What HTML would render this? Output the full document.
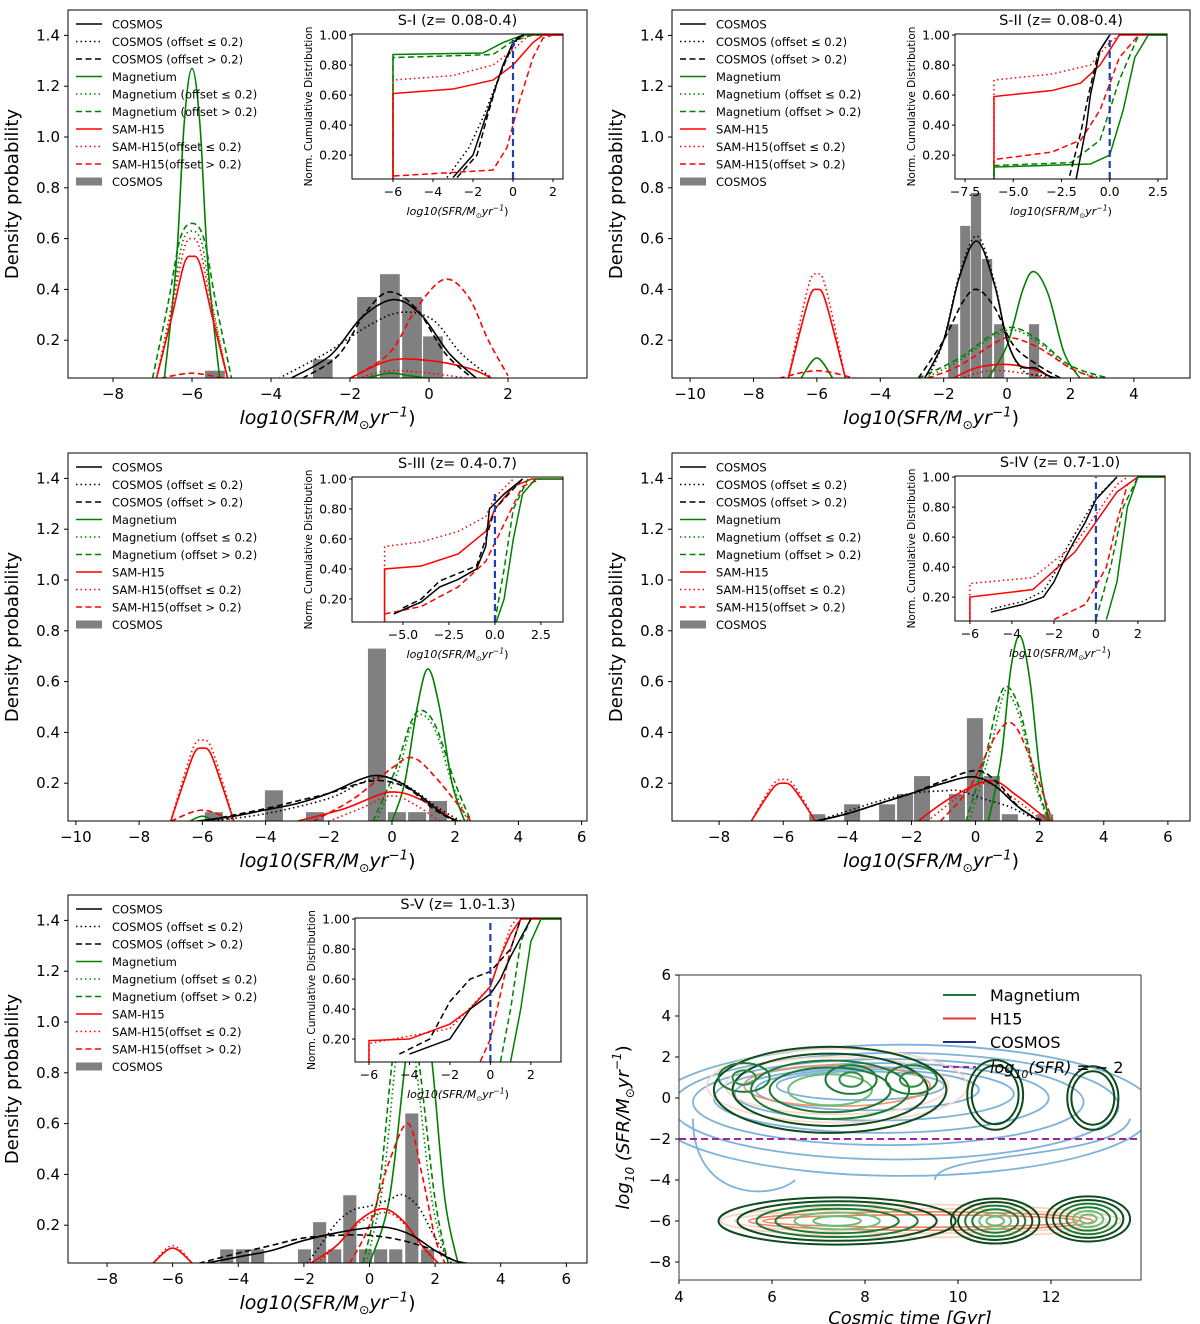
<!DOCTYPE html>
<html><head><meta charset="utf-8"><style>
html,body{margin:0;padding:0;background:#fff}
svg{display:block;font-family:"DejaVu Sans","Liberation Sans",sans-serif}
</style></head><body>
<svg id="fig" width="1200" height="1324" viewBox="0 0 1200 1324" xmlns="http://www.w3.org/2000/svg"></svg>
<script>
// ===== DATA =====
// Panel S-I
const s1BinX=[-5.67,-2.94,-1.82,-1.24,-0.68,-0.15];
const s1BinH=[0.08,0.125,0.37,0.46,0.37,0.215];
const s1CosSolid=[[-3.5,0.05],[-2.5,0.14],[-1.7,0.29],[-0.9,0.36],[-0.2,0.3],[0.5,0.15],[1.2,0.05]];
const s1CosDot=[[-3.8,0.05],[-2.6,0.15],[-1.5,0.26],[-0.7,0.31],[0.1,0.28],[0.8,0.15],[1.6,0.05]];
const s1CosDash=[[-3.2,0.05],[-2.3,0.14],[-1.6,0.31],[-1.0,0.39],[-0.3,0.32],[0.4,0.15],[1.1,0.05]];
const s1MagSolid=[[-6.7,0.05],[-6.4,0.5],[-6.2,1.05],[-6,1.27],[-5.8,1.05],[-5.6,0.5],[-5.3,0.05]];
const s1MagSolid2=[[-1.6,0.05],[-1,0.07],[-0.5,0.06],[0,0.05]];
const s1MagDot=[[-6.9,0.05],[-6.5,0.35],[-6.25,0.58],[-6,0.63],[-5.75,0.58],[-5.5,0.35],[-5.1,0.05]];
const s1MagDash=[[-7.0,0.05],[-6.6,0.35],[-6.3,0.6],[-6,0.66],[-5.7,0.6],[-5.4,0.35],[-5.0,0.05]];
const s1SamSolid=[[-6.9,0.05],[-6.5,0.3],[-6.2,0.5],[-6,0.53],[-5.8,0.5],[-5.5,0.3],[-5.1,0.05]];
const s1SamSolid2=[[-2,0.05],[-1,0.12],[0,0.12],[1,0.09],[1.6,0.05]];
const s1SamDot=[[-6.9,0.05],[-6.5,0.33],[-6.2,0.56],[-6,0.6],[-5.8,0.56],[-5.5,0.33],[-5.1,0.05]];
const s1SamDot2=[[-1.8,0.05],[-1,0.08],[0,0.07],[1,0.05]];
const s1SamDash=[[-6.8,0.05],[-6,0.07],[-5.2,0.05]];
const s1SamDash2=[[-2,0.05],[-1,0.15],[-0.3,0.33],[0.4,0.44],[1,0.37],[1.5,0.2],[2,0.06]];
// Panel S-II
const s2BinX=[-1.86,-1.48,-1.14,-0.79,-0.41,0.69];
const s2BinH=[0.263,0.65,0.78,0.52,0.263,0.263];
const s2CosSolid=[[-2.6,0.05],[-2,0.2],[-1.5,0.45],[-0.95,0.59],[-0.4,0.42],[0,0.2],[0.4,0.1],[0.9,0.09],[1.3,0.06],[1.6,0.05]];
const s2CosDot=[[-2.5,0.05],[-2,0.2],[-1.5,0.46],[-0.95,0.61],[-0.4,0.43],[0,0.2],[0.5,0.08],[1.2,0.06],[1.6,0.05]];
const s2CosDash=[[-2.8,0.05],[-2,0.2],[-1.4,0.35],[-0.95,0.40],[-0.4,0.33],[0.2,0.18],[1,0.1],[1.7,0.05]];
const s2MagSolid=[[-6.5,0.05],[-6,0.13],[-5.5,0.05]];
const s2MagSolid2=[[-0.6,0.05],[0,0.18],[0.5,0.4],[0.85,0.47],[1.3,0.38],[1.8,0.15],[2.3,0.05]];
const s2MagDot=[[-2.6,0.05],[-1.5,0.12],[-0.5,0.21],[0.2,0.24],[1,0.19],[2,0.09],[3,0.05]];
const s2MagDash=[[-2.8,0.05],[-1.5,0.13],[-0.5,0.22],[0.2,0.25],[1,0.2],[2,0.1],[3.2,0.05]];
const s2SamSolid=[[-6.9,0.05],[-6.5,0.25],[-6.2,0.38],[-6,0.40],[-5.8,0.38],[-5.5,0.25],[-5.1,0.05]];
const s2SamSolid2=[[-1.7,0.05],[-1,0.09],[-0.13,0.105],[0.7,0.09],[1.5,0.05]];
const s2SamDot=[[-6.9,0.05],[-6.5,0.29],[-6.2,0.44],[-6,0.46],[-5.8,0.44],[-5.5,0.29],[-5.1,0.05]];
const s2SamDot2=[[-1.5,0.05],[-0.5,0.08],[0.5,0.07],[1.3,0.05]];
const s2SamDash=[[-7.2,0.05],[-6,0.08],[-4.8,0.05]];
const s2SamDash2=[[-2.5,0.05],[-1.5,0.1],[-0.5,0.18],[0.1,0.21],[1,0.17],[2,0.09],[2.8,0.05]];
// Panel S-III
const s3BinX=[-5.92,-4.02,-2.72,-0.76,-0.13,0.51,1.17];
const s3BinH=[0.086,0.172,0.086,0.73,0.086,0.086,0.13];
const s3CosSolid=[[-6.2,0.05],[-5,0.07],[-4,0.095],[-3,0.12],[-2,0.16],[-1,0.215],[-0.4,0.23],[0.3,0.2],[1,0.14],[1.6,0.08],[2.1,0.05]];
const s3CosDot=[[-5.8,0.05],[-4,0.08],[-2,0.14],[-1,0.2],[-0.2,0.225],[0.6,0.18],[1.5,0.1],[2.2,0.05]];
const s3CosDash=[[-6,0.05],[-4,0.1],[-3,0.13],[-2,0.16],[-1,0.2],[-0.3,0.21],[0.5,0.18],[1.3,0.1],[2,0.05]];
const s3MagSolid=[[0,0.05],[0.4,0.2],[0.8,0.5],[1.14,0.65],[1.5,0.5],[1.9,0.2],[2.3,0.05]];
const s3MagDot=[[-0.5,0.05],[0.2,0.25],[0.6,0.42],[0.95,0.47],[1.4,0.4],[1.9,0.2],[2.4,0.05]];
const s3MagDash=[[-0.6,0.05],[0.1,0.25],[0.6,0.44],[0.95,0.487],[1.4,0.42],[2,0.2],[2.5,0.05]];
const s3MagSolidB=[[-6.4,0.05],[-6,0.07],[-5.6,0.05]];
const s3SamSolid=[[-7,0.05],[-6.6,0.2],[-6.25,0.32],[-6,0.338],[-5.75,0.32],[-5.4,0.2],[-5,0.05]];
const s3SamDot=[[-7,0.05],[-6.6,0.22],[-6.25,0.35],[-6,0.37],[-5.75,0.35],[-5.4,0.22],[-5,0.05]];
const s3SamDash=[[-7,0.05],[-6,0.094],[-5,0.05]];
const s3SamSolid2=[[-3,0.05],[-1.5,0.1],[-0.06,0.165],[1,0.13],[2,0.05]];
const s3SamDot2=[[-2,0.05],[-1,0.1],[0,0.15],[0.8,0.11],[1.5,0.05]];
const s3SamDash2=[[-2.5,0.05],[-1.2,0.14],[0,0.26],[0.66,0.30],[1.4,0.22],[2.5,0.05]];
// Panel S-IV
const s4BinX=[-5.19,-4.1,-3.01,-2.45,-1.92,-0.83,-0.27,0.26,0.82,1.92];
const s4BinH=[0.078,0.117,0.117,0.157,0.228,0.157,0.456,0.228,0.078,0.078];
const s4CosSolid=[[-5.0,0.05],[-4,0.08],[-3,0.12],[-2,0.16],[-1,0.2],[-0.1,0.225],[0.6,0.19],[1.3,0.11],[2,0.05]];
const s4CosDot=[[-5,0.05],[-4,0.09],[-3,0.13],[-2,0.16],[-1,0.17],[-0.5,0.17],[0.2,0.14],[1,0.11],[1.5,0.08],[2,0.05]];
const s4CosDash=[[-5,0.05],[-4,0.08],[-3,0.12],[-2,0.16],[-1,0.21],[0.04,0.25],[0.7,0.2],[1.4,0.1],[2.1,0.05]];
const s4MagSolid=[[0.4,0.05],[0.8,0.3],[1.1,0.65],[1.39,0.78],[1.7,0.6],[2,0.25],[2.3,0.05]];
const s4MagDot=[[-0.2,0.05],[0.4,0.3],[0.8,0.52],[1.0,0.56],[1.4,0.45],[1.9,0.18],[2.3,0.05]];
const s4MagDash=[[-0.3,0.05],[0.3,0.3],[0.7,0.52],[1.0,0.58],[1.4,0.48],[1.9,0.2],[2.3,0.05]];
const s4SamSolid=[[-7,0.05],[-6.6,0.13],[-6.25,0.19],[-6,0.2],[-5.75,0.19],[-5.4,0.13],[-5,0.05]];
const s4SamDot=[[-7,0.05],[-6.6,0.14],[-6.25,0.205],[-6,0.215],[-5.75,0.205],[-5.4,0.14],[-5,0.05]];
const s4SamSolid2=[[-1.8,0.05],[-0.8,0.14],[0.45,0.21],[1.3,0.15],[2.3,0.05]];
const s4SamDot2=[[-1.5,0.05],[-0.5,0.15],[0.3,0.2],[1.2,0.14],[2.1,0.05]];
const s4SamDash2=[[-1.1,0.05],[-0.2,0.18],[0.6,0.38],[1.14,0.436],[1.7,0.3],[2.4,0.05]];
// Panel S-V
const s5BinX=[-4.55,-4.07,-3.61,-2.18,-1.72,-1.26,-0.8,-0.32,0.14,0.6,1.09,1.57];
const s5BinH=[0.105,0.105,0.105,0.105,0.212,0.105,0.318,0.105,0.105,0.105,0.64,0.105];
const s5CosSolid=[[-5,0.05],[-4,0.075],[-3,0.1],[-2,0.14],[-1,0.17],[0,0.19],[0.6,0.19],[1.3,0.16],[2,0.1],[2.6,0.06],[3,0.05]];
const s5CosDot=[[-1.9,0.05],[-1.5,0.12],[-1,0.21],[-0.5,0.26],[0,0.275],[0.6,0.3],[1.0,0.32],[1.5,0.27],[2,0.15],[2.5,0.05]];
const s5CosDash=[[-5.2,0.05],[-4,0.09],[-3,0.12],[-2,0.15],[-1,0.16],[0,0.16],[1,0.14],[2,0.1],[2.6,0.06],[3,0.05]];
const s5MagSolid=[[0,0.05],[0.6,0.3],[1.1,0.85],[1.5,1.25],[1.9,0.85],[2.3,0.3],[2.7,0.05]];
const s5MagDot=[[-0.1,0.05],[0.4,0.35],[0.8,0.85],[1.1,1.12],[1.4,0.85],[1.9,0.3],[2.4,0.05]];
const s5MagDash=[[-0.2,0.05],[0.3,0.35],[0.7,0.85],[1.1,1.15],[1.5,0.85],[2.0,0.3],[2.4,0.05]];
const s5SamSolid=[[-6.6,0.05],[-6,0.11],[-5.4,0.05]];
const s5SamDot=[[-6.6,0.05],[-6,0.12],[-5.4,0.05]];
const s5SamSolid2=[[-1.8,0.05],[-1,0.12],[-0.3,0.22],[0.4,0.265],[1,0.22],[1.6,0.12],[2.1,0.05]];
const s5SamDot2=[[-1.6,0.05],[-1,0.12],[-0.3,0.21],[0.5,0.25],[1.1,0.2],[1.7,0.1],[2.1,0.05]];
const s5SamDash2=[[-0.6,0.05],[0,0.2],[0.6,0.45],[1.18,0.6],[1.6,0.4],[2.0,0.15],[2.3,0.05]];
// Inset CDFs
const c1=[
 ['g','-',[[-6,0],[-6,0.87],[-1.5,0.88],[-0.5,0.95],[0.5,1.0],[2.5,1]]],
 ['g','--',[[-6,0],[-6,0.85],[-1,0.87],[0,0.96],[1,1],[2.5,1]]],
 ['r','-',[[-6,0],[-6,0.61],[-3,0.64],[-1,0.7],[0,0.8],[1,0.95],[1.5,1],[2.5,1]]],
 ['r',':',[[-6,0],[-6,0.70],[-3,0.73],[-1,0.8],[0,0.9],[0.8,1],[2.5,1]]],
 ['r','--',[[-6,0],[-6,0.06],[-1,0.1],[-0.3,0.25],[0.3,0.55],[1,0.85],[1.5,0.98],[2,1]]],
 ['k','-',[[-3,0.05],[-2,0.2],[-1.5,0.4],[-1,0.6],[-0.5,0.8],[0,0.95],[0.5,1]]],
 ['k',':',[[-3.3,0.05],[-2.2,0.25],[-1.5,0.45],[-1,0.62],[-0.4,0.82],[0.2,0.97],[0.6,1]]],
 ['k','--',[[-2.8,0.05],[-1.8,0.2],[-1.3,0.45],[-0.8,0.68],[-0.3,0.85],[0.2,0.98],[0.5,1]]]];
const c2=[
 ['r','-',[[-6,0],[-6,0.59],[-3,0.63],[-1.5,0.68],[-0.5,0.8],[0,0.9],[0.5,1],[3,1]]],
 ['r',':',[[-6,0],[-6,0.7],[-3,0.74],[-1,0.8],[0,0.95],[0.5,1]]],
 ['r','--',[[-6,0],[-6,0.17],[-3,0.22],[-1.5,0.3],[-0.5,0.5],[0.5,0.85],[1.5,1]]],
 ['g','-',[[-6,0],[-6,0.12],[-1,0.14],[0,0.2],[0.7,0.5],[1.3,0.85],[2,1],[3,1]]],
 ['g','--',[[-6,0],[-6,0.13],[-2,0.15],[-0.5,0.3],[0.5,0.7],[1.5,1]]],
 ['k','-',[[-1.8,0.0],[-1.2,0.4],[-1,0.6],[-0.5,0.9],[0,1]]],
 ['k','--',[[-2.2,0.0],[-1.5,0.35],[-1.1,0.6],[-0.6,0.88],[0,1]]]];
const c3=[
 ['r','-',[[-6,0],[-6,0.4],[-4,0.42],[-2,0.5],[-0.5,0.65],[0,0.8],[1,0.95],[2,1],[3.7,1]]],
 ['r',':',[[-6,0],[-6,0.55],[-4,0.58],[-2,0.65],[-0.5,0.75],[0,0.88],[1,1]]],
 ['r','--',[[-6,0.1],[-4,0.15],[-2,0.28],[-0.5,0.45],[0.5,0.7],[1.5,0.95],[2.5,1]]],
 ['g','-',[[-6,0],[0,0.02],[0.5,0.2],[1,0.6],[1.5,0.9],[2.2,1],[3.7,1]]],
 ['g','--',[[0,0.05],[0.5,0.4],[1,0.8],[1.8,1]]],
 ['k','-',[[-5.5,0.1],[-4,0.18],[-3,0.28],[-2,0.33],[-1,0.4],[-0.5,0.55],[-0.3,0.8],[0.5,0.9],[1.5,1]]],
 ['k','--',[[-5,0.14],[-4,0.2],[-3,0.32],[-1,0.42],[-0.5,0.6],[0,0.8],[1.5,1]]]];
const c4=[
 ['r','-',[[-6,0],[-6,0.2],[-3,0.25],[-1,0.5],[0,0.7],[1,0.9],[2,1],[3.3,1]]],
 ['r',':',[[-6,0],[-6,0.29],[-3,0.33],[-1,0.55],[0,0.75],[1,0.95],[1.5,1]]],
 ['r','--',[[-2,0.05],[-0.5,0.15],[0.5,0.4],[1,0.7],[1.5,0.95],[2,1]]],
 ['g','-',[[0.5,0.05],[1,0.3],[1.5,0.8],[2,1],[3.3,1]]],
 ['g','--',[[0,0.05],[0.7,0.4],[1.3,0.8],[2,1]]],
 ['k','-',[[-5,0.1],[-3.5,0.15],[-2.5,0.2],[-2,0.3],[-1.5,0.45],[-1,0.58],[-0.5,0.7],[0,0.85],[1,1]]],
 ['k',':',[[-5,0.12],[-3.5,0.17],[-2.5,0.24],[-2,0.35],[-1.5,0.5],[-1,0.62],[-0.5,0.74],[0,0.86],[1,1]]]];
const c5=[
 ['r','-',[[-6,0],[-6,0.19],[-4,0.2],[-2,0.3],[-1,0.4],[0,0.55],[0.5,0.75],[1,0.9],[1.5,1],[3.5,1]]],
 ['r',':',[[-6,0],[-6,0.17],[-2,0.27],[0,0.55],[1,0.95],[1.3,1]]],
 ['r','--',[[-0.5,0.05],[0,0.2],[0.5,0.5],[1,0.8],[1.5,1]]],
 ['g','-',[[1,0.05],[1.5,0.4],[2,0.85],[2.5,1],[3.5,1]]],
 ['g','--',[[0.5,0.05],[1,0.4],[1.5,0.85],[2,1]]],
 ['k','-',[[-4,0.1],[-2,0.2],[-1,0.4],[0,0.5],[0.5,0.6],[1,0.75],[2,1]]],
 ['k','--',[[-4.5,0.1],[-3,0.2],[-2,0.45],[-1,0.6],[0,0.65],[1,0.8],[1.5,1]]]];
// Panel 6 contours
const blobX=[7.25,10.8,12.9,7.4,10.8,12.8];
const blobY=[0.4,0.15,0.0,-6.0,-6.0,-5.9];
const blobRx=[2.5,0.6,0.55,2.55,0.95,0.9];
const blobRy=[2.1,1.7,1.55,1.15,1.1,1.1];
const blobLevels=[5,2,2,6,6,6];
const peakX=[5.4,7.7,9.0];
const peakY=[1.0,0.9,0.9];
const blueRx=[5.4,4.8,4.2,3.6,3.0,2.4,1.8];
const blueRy=[3.2,2.6,2.1,1.7,1.3,1.0,0.7];
const blueCx=8.8, blueCy=0.0;
const salmonRx=[4.3,4.0,3.7,3.4];
const salmonRy=[0.8,0.6,0.45,0.3];

// ===== RENDER =====
const NS='http://www.w3.org/2000/svg';
const svg=document.getElementById('fig');
function mk(tag,attrs,parent){const e=document.createElementNS(NS,tag);for(const k in attrs)e.setAttribute(k,attrs[k]);(parent||svg).appendChild(e);return e;}
const COL={k:'#000',g:'#008000',r:'#ff0000'};
const DASH={'-':'none',':':'1.5,3','--':'6,3.5'};
function smooth(pts){let d='M'+pts[0][0]+','+pts[0][1];for(let i=0;i<pts.length-1;i++){const p0=pts[i-1]||pts[i],p1=pts[i],p2=pts[i+1],p3=pts[i+2]||p2;const c1x=p1[0]+(p2[0]-p0[0])/6,c1y=p1[1]+(p2[1]-p0[1])/6,c2x=p2[0]-(p3[0]-p1[0])/6,c2y=p2[1]-(p3[1]-p1[1])/6;d+=` C${c1x},${c1y} ${c2x},${c2y} ${p2[0]},${p2[1]}`;}return d;}
function txt(s,x,y,opt){const e=mk('text',Object.assign({x:x,y:y,'font-size':opt.size||14,'text-anchor':opt.anchor||'start',fill:'#000'},opt.extra||{}),opt.parent);e.innerHTML=s;return e;}
const minus=v=>(v<0?'\u2212':'')+Math.abs(v);
let clipId=0;
function xlabelMath(x,y,size,parent){return txt(`<tspan font-style="italic">log10(SFR/M</tspan><tspan font-size="${size*0.65}" dy="${size*0.25}">\u2299</tspan><tspan font-style="italic" dy="${-size*0.25}">yr</tspan><tspan font-size="${size*0.7}" dy="${-size*0.4}" font-style="italic">\u22121</tspan><tspan dy="${size*0.4}">)</tspan>`,x,y,{size:size,anchor:'middle',name:'x-axis-title',parent:parent});}

const legendItems=[['k','-','COSMOS'],['k',':','COSMOS (offset \u2264 0.2)'],['k','--','COSMOS (offset &gt; 0.2)'],['g','-','Magnetium'],['g',':','Magnetium (offset \u2264 0.2)'],['g','--','Magnetium (offset &gt; 0.2)'],['r','-','SAM-H15'],['r',':','SAM-H15(offset \u2264 0.2)'],['r','--','SAM-H15(offset &gt; 0.2)'],['bar','','COSMOS']];

function panel(c){
 const g=mk('g',{});
 const X=v=>c.left+(v-c.xmin)/(c.xmax-c.xmin)*c.w;
 const Y=v=>c.top+(1.5-v)*254;
 const bottom=c.top+368;
 const id='cp'+(clipId++);
 const cp=mk('clipPath',{id:id},g);mk('rect',{x:c.left,y:c.top,width:c.w,height:368},cp);
 const plot=mk('g',{'clip-path':`url(#${id})`},g);
 c.binX.forEach((b,i)=>{const r=mk('rect',{x:X(b),y:Y(c.binH[i]),width:X(b+c.bw)-X(b),height:bottom-Y(c.binH[i])+2,fill:'#808080'},plot);});
 c.curves.forEach(cv=>{const p=mk('path',{d:smooth(cv[2].map(q=>[X(q[0]),Y(q[1])])),fill:'none',stroke:COL[cv[0]],'stroke-width':1.6,'stroke-dasharray':DASH[cv[1]]},plot);});
 const fr=mk('rect',{x:c.left,y:c.top,width:c.w,height:368,fill:'none',stroke:'#000','stroke-width':1},g);
 [0.2,0.4,0.6,0.8,1.0,1.2,1.4].forEach(v=>{mk('line',{x1:c.left-4,x2:c.left,y1:Y(v),y2:Y(v),stroke:'#000'},g);txt(v.toFixed(1),c.left-8,Y(v)+5,{size:15,anchor:'end',name:'y-tick-label',parent:g});});
 c.xticks.forEach(v=>{mk('line',{x1:X(v),x2:X(v),y1:bottom,y2:bottom+4,stroke:'#000'},g);txt(minus(v),X(v),bottom+21,{size:15,anchor:'middle',name:'x-tick-label',parent:g});});
 txt('Density probability',0,0,{size:18,anchor:'middle',name:'y-axis-title',parent:g,extra:{transform:`translate(${c.left-50},${c.top+184}) rotate(-90)`}});
 xlabelMath(c.left+c.w/2,bottom+46,19,g);
 legendItems.forEach((it,i)=>{const yy=c.top+14+i*17.5;
  if(it[0]==='bar'){mk('rect',{x:c.left+8,y:yy-4,width:26,height:8,fill:'#808080'},g);}
  else mk('line',{x1:c.left+8,x2:c.left+34,y1:yy,y2:yy,stroke:COL[it[0]],'stroke-width':1.6,'stroke-dasharray':DASH[it[1]]},g);
  txt(it[2],c.left+44,yy+4.5,{size:11.5,name:'legend-entry',parent:g});});
 const n=c.inset;const IX=v=>n.left+(v-n.xmin)/(n.xmax-n.xmin)*n.w;const IY=v=>n.top+(n.ymax-v)*150;const ib=n.top+n.h;
 const ig=mk('g',{},g);
 mk('rect',{x:n.left,y:n.top,width:n.w,height:n.h,fill:'#fff'},ig);
 const id2='cp'+(clipId++);const cp2=mk('clipPath',{id:id2},ig);mk('rect',{x:n.left,y:n.top,width:n.w,height:n.h},cp2);
 const ip=mk('g',{'clip-path':`url(#${id2})`},ig);
 n.cdf.forEach(cv=>{const p=mk('polyline',{points:cv[2].map(q=>IX(q[0])+','+IY(q[1])).join(' '),fill:'none',stroke:COL[cv[0]],'stroke-width':1.5,'stroke-dasharray':DASH[cv[1]]},ip);});
 const bl=mk('line',{x1:IX(0),x2:IX(0),y1:ib,y2:IY(n.vtop),stroke:'#1f3fb0','stroke-width':2.2,'stroke-dasharray':'7,4'},ip);
 mk('rect',{x:n.left,y:n.top,width:n.w,height:n.h,fill:'none',stroke:'#000'},ig);
 [0.2,0.4,0.6,0.8,1.0].forEach(v=>{mk('line',{x1:n.left-3,x2:n.left,y1:IY(v),y2:IY(v),stroke:'#000'},ig);txt(v.toFixed(2),n.left-5,IY(v)+4.5,{size:12.5,anchor:'end',name:'inset-y-tick',parent:ig});});
 n.xticks.forEach((v,i)=>{mk('line',{x1:IX(v),x2:IX(v),y1:ib,y2:ib+3,stroke:'#000'},ig);txt(n.xlab[i],IX(v),ib+17,{size:12.5,anchor:'middle',name:'inset-x-tick',parent:ig});});
 txt('Norm. Cumulative Distribution',0,0,{size:10.5,anchor:'middle',name:'inset-y-title',parent:ig,extra:{transform:`translate(${n.left-40},${n.top+n.h/2}) rotate(-90)`}});
 xlabelMath(n.left+n.w/2,ib+36,11,ig);
 txt(c.title,n.left+n.w/2,n.top-9,{size:14.5,anchor:'middle',name:'panel-title',parent:g});
}
const C=(col,st,pts)=>[col,st,pts];
panel({name:'panel-s1',left:68,top:10,w:519,xmin:-9.14,xmax:4.0,xticks:[-8,-6,-4,-2,0,2],binX:s1BinX,binH:s1BinH,bw:0.5,title:'S-I (z= 0.08-0.4)',
 curves:[C('g','-',s1MagSolid),C('g','-',s1MagSolid2),C('g',':',s1MagDot),C('g','--',s1MagDash),C('r','-',s1SamSolid),C('r','-',s1SamSolid2),C('r',':',s1SamDot),C('r',':',s1SamDot2),C('r','--',s1SamDash),C('r','--',s1SamDash2),C('k','-',s1CosSolid),C('k',':',s1CosDot),C('k','--',s1CosDash)],
 inset:{left:352,top:34,w:211,h:145,xmin:-8.05,xmax:2.5,ymax:1.007,vtop:0.97,xticks:[-6,-4,-2,0,2],xlab:['\u22126','\u22124','\u22122','0','2'],cdf:c1}});
panel({name:'panel-s2',left:672,top:10,w:518,xmin:-10.57,xmax:5.77,xticks:[-10,-8,-6,-4,-2,0,2,4],binX:s2BinX,binH:s2BinH,bw:0.32,title:'S-II (z= 0.08-0.4)',
 curves:[C('g','-',s2MagSolid),C('g','-',s2MagSolid2),C('g',':',s2MagDot),C('g','--',s2MagDash),C('r','-',s2SamSolid),C('r','-',s2SamSolid2),C('r',':',s2SamDot),C('r',':',s2SamDot2),C('r','--',s2SamDash),C('r','--',s2SamDash2),C('k','-',s2CosSolid),C('k',':',s2CosDot),C('k','--',s2CosDash)],
 inset:{left:955,top:34,w:212,h:145,xmin:-8.02,xmax:2.97,ymax:1.007,vtop:1.0,xticks:[-7.5,-5,-2.5,0,2.5],xlab:['\u22127.5','\u22125.0','\u22122.5','0.0','2.5'],cdf:c2}});
panel({name:'panel-s3',left:68,top:453,w:519,xmin:-10.25,xmax:6.17,xticks:[-10,-8,-6,-4,-2,0,2,4,6],binX:s3BinX,binH:s3BinH,bw:0.57,title:'S-III (z= 0.4-0.7)',
 curves:[C('g','-',s3MagSolid),C('g','-',s3MagSolidB),C('g',':',s3MagDot),C('g','--',s3MagDash),C('r','-',s3SamSolid),C('r','-',s3SamSolid2),C('r',':',s3SamDot),C('r',':',s3SamDot2),C('r','--',s3SamDash),C('r','--',s3SamDash2),C('k','-',s3CosSolid),C('k',':',s3CosDot),C('k','--',s3CosDash)],
 inset:{left:352,top:477,w:211,h:145,xmin:-7.77,xmax:3.7,ymax:1.013,vtop:0.9,xticks:[-5,-2.5,0,2.5],xlab:['\u22125.0','\u22122.5','0.0','2.5'],cdf:c3}});
panel({name:'panel-s4',left:672,top:453,w:518,xmin:-9.47,xmax:6.69,xticks:[-8,-6,-4,-2,0,2,4,6],binX:s4BinX,binH:s4BinH,bw:0.5,title:'S-IV (z= 0.7-1.0)',
 curves:[C('g','-',s4MagSolid),C('g',':',s4MagDot),C('g','--',s4MagDash),C('r','-',s4SamSolid),C('r','-',s4SamSolid2),C('r',':',s4SamDot),C('r',':',s4SamDot2),C('r','--',s4SamDash2),C('k','-',s4CosSolid),C('k',':',s4CosDot),C('k','--',s4CosDash)],
 inset:{left:955,top:476,w:210,h:145,xmin:-6.71,xmax:3.29,ymax:1.007,vtop:1.0,xticks:[-6,-4,-2,0,2],xlab:['\u22126','\u22124','\u22122','0','2'],cdf:c4}});
panel({name:'panel-s5',left:68,top:895,w:519,xmin:-9.19,xmax:6.63,xticks:[-8,-6,-4,-2,0,2,4,6],binX:s5BinX,binH:s5BinH,bw:0.4,title:'S-V (z= 1.0-1.3)',
 curves:[C('g','-',s5MagSolid),C('g',':',s5MagDot),C('g','--',s5MagDash),C('r','-',s5SamSolid),C('r','-',s5SamSolid2),C('r',':',s5SamDot),C('r',':',s5SamDot2),C('r','--',s5SamDash2),C('k','-',s5CosSolid),C('k',':',s5CosDot),C('k','--',s5CosDash)],
 inset:{left:355,top:918,w:206,h:144,xmin:-6.69,xmax:3.49,ymax:1.007,vtop:1.0,xticks:[-6,-4,-2,0,2],xlab:['\u22126','\u22124','\u22122','0','2'],cdf:c5}});

// ===== Panel 6 =====
(function(){
 const L=679,T=975,W=462,H=305;
 const X=v=>L+(v-4)*46.5, Y=v=>T+(6-v)*20.5;
 const g=mk('g',{});
 const cp=mk('clipPath',{id:'clip-contour-panel'},g);mk('rect',{x:L,y:T,width:W,height:H},cp);
 const p=mk('g',{'clip-path':'url(#clip-contour-panel)'},g);
 blueRx.forEach((rx,i)=>{const e=mk('ellipse',{cx:X(blueCx-i*0.15),cy:Y(blueCy-0.6+i*0.2),rx:rx*46.5,ry:blueRy[i]*20.5,fill:'none',stroke:'#7fb2da','stroke-width':1.8},p);});
 mk('path',{d:`M${X(4.3)},${Y(-1)} C${X(4.3)},${Y(-5)} ${X(6)},${Y(-5)} ${X(6.5)},${Y(-4)}`,fill:'none',stroke:'#7fb2da','stroke-width':1.8},p);
 mk('path',{d:`M${X(9.5)},${Y(-4)} C${X(9.5)},${Y(-2.6)} ${X(13.5)},${Y(-3)} ${X(13.7)},${Y(-1)}`,fill:'none',stroke:'#7fb2da','stroke-width':1.8},p);
 salmonRx.forEach((rx,i)=>{const e=mk('ellipse',{cx:X(9.2),cy:Y(-6.0),rx:rx*46.5,ry:salmonRy[i]*20.5,fill:'none',stroke:i<2?'#fcd0bc':'#f08060','stroke-width':1.6},p);});
 [0,1,2].forEach(i=>{mk('ellipse',{cx:X(7.4),cy:Y(0.6),rx:(2.8-i*0.4)*46.5,ry:(1.8-i*0.4)*20.5,fill:'none',stroke:i<2?'#fcd6c6':'#f29070','stroke-width':1.6},p);});
 blobX.forEach((bx,i)=>{for(let k=0;k<blobLevels[i];k++){const f=1-k*0.16;const e=mk('ellipse',{cx:X(bx),cy:Y(blobY[i]),rx:blobRx[i]*f*46.5,ry:blobRy[i]*f*20.5,fill:'none',stroke:k<2?'#0d4a1c':(k<4?'#1e7a34':'#6cbf78'),'stroke-width':2},p);}});
 peakX.forEach((px,i)=>{mk('ellipse',{cx:X(px),cy:Y(peakY[i]),rx:0.55*46.5,ry:0.7*20.5,fill:'none',stroke:'#1e7a34','stroke-width':2},p);mk('ellipse',{cx:X(px),cy:Y(peakY[i]),rx:0.25*46.5,ry:0.35*20.5,fill:'none',stroke:'#2e8b44','stroke-width':2},p);});
 const hl=mk('line',{x1:L,x2:L+W,y1:Y(-2),y2:Y(-2),stroke:'#a0259a','stroke-width':2,'stroke-dasharray':'7,4'},p);
 mk('rect',{x:L,y:T,width:W,height:H,fill:'none',stroke:'#333'},g);
 [4,6,8,10,12].forEach(v=>{mk('line',{x1:X(v),x2:X(v),y1:T+H,y2:T+H+4,stroke:'#000'},g);txt(String(v),X(v),T+H+22,{size:15,anchor:'middle',name:'x-tick-label',parent:g});});
 [6,4,2,0,-2,-4,-6,-8].forEach(v=>{mk('line',{x1:L-4,x2:L,y1:Y(v),y2:Y(v),stroke:'#000'},g);txt(minus(v),L-8,Y(v)+5,{size:15,anchor:'end',name:'y-tick-label',parent:g});});
 txt('<tspan font-style="italic">Cosmic time [Gyr]</tspan>',L+W/2,T+H+44,{size:18,anchor:'middle',name:'x-axis-title',parent:g});
 txt('<tspan font-style="italic">log</tspan><tspan font-size="12" dy="5" font-style="italic">10</tspan><tspan dy="-5" font-style="italic"> (SFR/M</tspan><tspan font-size="12" dy="5">\u2299</tspan><tspan dy="-5" font-style="italic">yr</tspan><tspan font-size="12" dy="-8" font-style="italic">\u22121</tspan><tspan dy="8">)</tspan>',0,0,{size:18,anchor:'middle',name:'y-axis-title',parent:g,extra:{transform:`translate(${L-50},${T+H/2}) rotate(-90)`}});
 const leg=[['#1e7a34','Magnetium'],['#e8392a','H15'],['#1b2f8f','COSMOS']];
 leg.forEach((it,i)=>{const yy=995+i*23.5;mk('line',{x1:943,x2:976,y1:yy,y2:yy,stroke:it[0],'stroke-width':2},g);txt(it[1],990,yy+6,{size:16,name:'legend-entry',parent:g});});
 mk('line',{x1:943,x2:976,y1:1067,y2:1067,stroke:'#a0259a','stroke-width':2,'stroke-dasharray':'6,4'},g);
 txt('<tspan font-style="italic">log</tspan><tspan font-size="11" dy="5" font-style="italic">10</tspan><tspan dy="-5" font-style="italic">(SFR)</tspan> = \u2212 2',990,1073,{size:16,name:'legend-entry',parent:g});
})();
</script>
</body></html>
